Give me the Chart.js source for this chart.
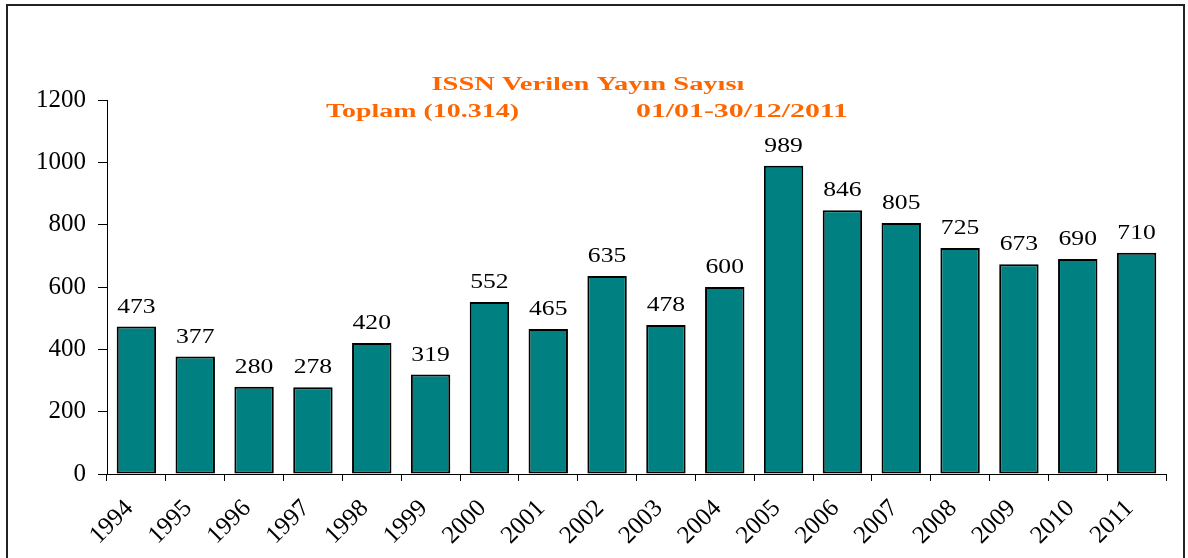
<!DOCTYPE html>
<html>
<head>
<meta charset="utf-8">
<script src="https://cdn.jsdelivr.net/npm/chart.js@4.4.0/dist/chart.umd.min.js"></script>
<style>
html,body{margin:0;padding:0;background:#fff;}
canvas{display:block;}
</style>
</head>
<body>
<canvas id="c" width="1188" height="558"></canvas>
<script>
const years = ['1994','1995','1996','1997','1998','1999','2000','2001','2002','2003','2004','2005','2006','2007','2008','2009','2010','2011'];
const counts = [473,377,280,278,420,319,552,465,635,478,600,989,846,805,725,673,690,710];
const yTicks = [0,200,400,600,800,1000,1200];
const titleLine1 = 'ISSN Verilen Yayın Sayısı';
const titleLeft = 'Toplam (10.314)';
const titleRight = '01/01-30/12/2011';

const SERIF = '"Liberation Serif", "Times New Roman", Times, serif';

function stretchedText(ctx, text, x, y, font, targetWidth, align) {
  ctx.save();
  ctx.font = font;
  const w = ctx.measureText(text).width;
  const sx = targetWidth ? targetWidth / w : 1;
  ctx.textBaseline = 'alphabetic';
  ctx.textAlign = 'left';
  let x0 = x;
  if (align === 'center') x0 = x - w * sx / 2;
  ctx.translate(x0, y);
  ctx.scale(sx, 1);
  ctx.fillText(text, 0, 0);
  ctx.restore();
}

const decor = {
  id: 'decor',
  beforeDraw(chart) {
    const ctx = chart.ctx;
    ctx.save();
    ctx.fillStyle = '#fff';
    ctx.fillRect(0, 0, chart.width, chart.height);
    ctx.strokeStyle = '#222';
    ctx.lineWidth = 2;
    ctx.beginPath();
    ctx.moveTo(7, 600);
    ctx.lineTo(7, 5);
    ctx.lineTo(1184, 5);
    ctx.lineTo(1184, 600);
    ctx.stroke();
    ctx.restore();
  },
  afterDraw(chart) {
    const ctx = chart.ctx;
    ctx.save();
    ctx.fillStyle = '#FF6600';
    const tf = 'bold 18px ' + SERIF;
    stretchedText(ctx, titleLine1, 588, 90, tf, 313, 'center');
    stretchedText(ctx, titleLeft, 326, 117, tf, 193, 'left');
    stretchedText(ctx, titleRight, 636, 117, tf, 212, 'left');
    ctx.fillStyle = '#000';
    const meta = chart.getDatasetMeta(0);
    const lf = '21px ' + SERIF;
    meta.data.forEach((bar, i) => {
      const txt = String(chart.data.datasets[0].data[i]);
      ctx.font = lf;
      const w = ctx.measureText(txt).width;
      stretchedText(ctx, txt, bar.x, bar.y - 14, lf, w * 1.22, 'center');
    });
    ctx.restore();
  }
};

new Chart(document.getElementById('c'), {
  type: 'bar',
  data: {
    labels: years,
    datasets: [{
      data: counts,
      backgroundColor: '#008080',
      borderColor: '#000',
      borderWidth: 2,
      borderSkipped: false,
      barPercentage: 0.67,
      categoryPercentage: 1.0
    }]
  },
  options: {
    responsive: false,
    animation: false,
    devicePixelRatio: 1,
    layout: { padding: { top: 100, right: 22, left: 0, bottom: 0 } },
    plugins: { legend: { display: false }, title: { display: false }, tooltip: { enabled: false } },
    scales: {
      x: {
        afterFit(s) { s.height = 84; },
        grid: { offset: true, drawOnChartArea: false, drawTicks: true, tickLength: 7, color: '#000', lineWidth: 1 },
        border: { display: true, color: '#000', width: 1 },
        ticks: {
          color: '#000',
          maxRotation: 45, minRotation: 45,
          autoSkip: false,
          padding: 13,
          labelOffset: -7,
          font: { family: SERIF, size: 25 }
        }
      },
      y: {
        min: 0, max: 1200,
        afterFit(s) { s.width = 107; },
        afterBuildTicks(s) { s.ticks = yTicks.map(v => ({ value: v })); },
        grid: { drawOnChartArea: false, drawTicks: true, tickLength: 9, color: '#000', lineWidth: 1 },
        border: { display: true, color: '#000', width: 1 },
        ticks: {
          color: '#000',
          padding: 12,
          callback: (v) => String(v),
          font: { family: SERIF, size: 25 }
        }
      }
    }
  },
  plugins: [decor]
});
</script>
</body>
</html>
